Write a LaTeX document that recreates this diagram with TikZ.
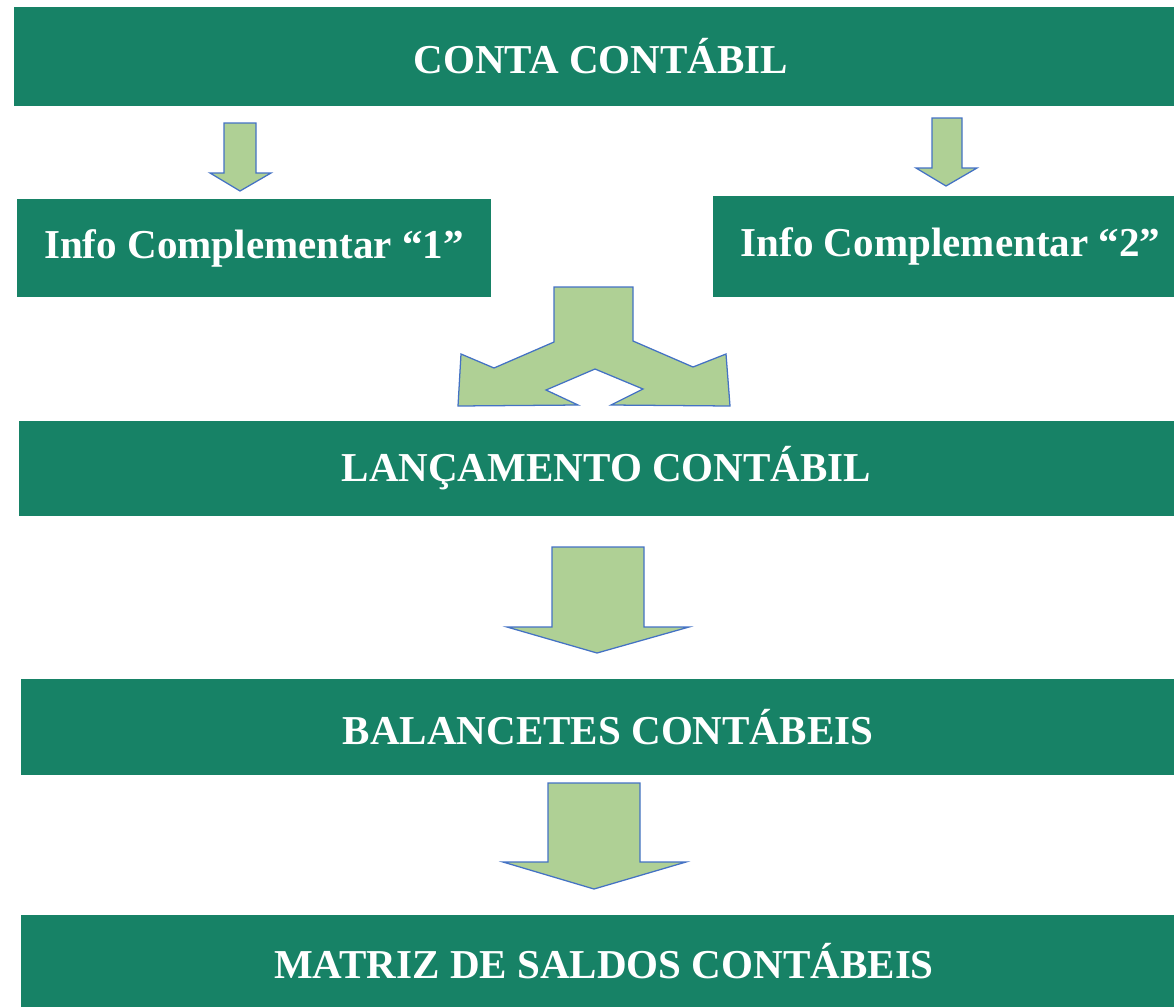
\documentclass[tikz,border=0pt]{standalone}
\usepackage{fontspec}
\setmainfont{Liberation Serif}
\usepackage{tikz}
\definecolor{boxgreen}{RGB}{23,130,102}
\definecolor{arrowfill}{RGB}{175,208,149}
\definecolor{arrowline}{RGB}{68,114,196}
\tikzset{box/.style={fill=boxgreen, text=white, inner sep=0pt,
    font=\fontsize{29.2}{34}\selectfont\bfseries},
  blockarrow/.style={fill=arrowfill, draw=arrowline, line width=0.9pt, line join=miter}
}

\begin{document}
\begin{tikzpicture}[x=0.025cm, y=-0.025cm]
      \useasboundingbox (0,0) rectangle (1174,1007);
      % boxes
      \node[box, minimum width=29.35cm, minimum height=2.475cm] (conta) at (601,56.5) {CONTA CONTÁBIL};
      \node[box, minimum width=11.85cm, minimum height=2.45cm] (info1) at (254,248) {Info Complementar “1”};
      \node[box, minimum width=11.875cm, minimum height=2.525cm] (info2) at (950.5,246.5) {Info Complementar “2”};
      \node[box, minimum width=29.375cm, minimum height=2.375cm] (lanc) at (606.5,468.5) {LANÇAMENTO CONTÁBIL};
      \node[box, minimum width=29.35cm, minimum height=2.4cm] (balanc) at (608,727) {BALANCETES CONTÁBEIS};
      \node[box, minimum width=29.15cm, minimum height=2.3cm] (matriz) at (604,961) {MATRIZ DE SALDOS CONTÁBEIS};
      % small arrows
      \draw[blockarrow] (224,123) -- (256,123) -- (256,173) -- (271,173) -- (240,191)
        -- (210,173) -- (224,173) -- cycle;
      \draw[blockarrow] (932,118) -- (962,118) -- (962,168) -- (977,168) -- (946,186)
        -- (916,168) -- (932,168) -- cycle;
      % fork arrow
      \draw[blockarrow] (554,287) -- (633,287) -- (633,341) -- (693,367) -- (726,354)
        -- (730,406) -- (611,405) -- (643,389) -- (595,369) -- (546,390) -- (578,405)
        -- (458,406) -- (461,354) -- (494,368) -- (554,342) -- cycle;
      % big arrows
      \draw[blockarrow] (552,547) -- (644,547) -- (644,627) -- (689,627) -- (597,653)
        -- (507,627) -- (552,627) -- cycle;
      \draw[blockarrow] (548,783) -- (640,783) -- (640,862) -- (686,862) -- (594,889)
        -- (503,862) -- (548,862) -- cycle;
\end{tikzpicture}
\end{document}
